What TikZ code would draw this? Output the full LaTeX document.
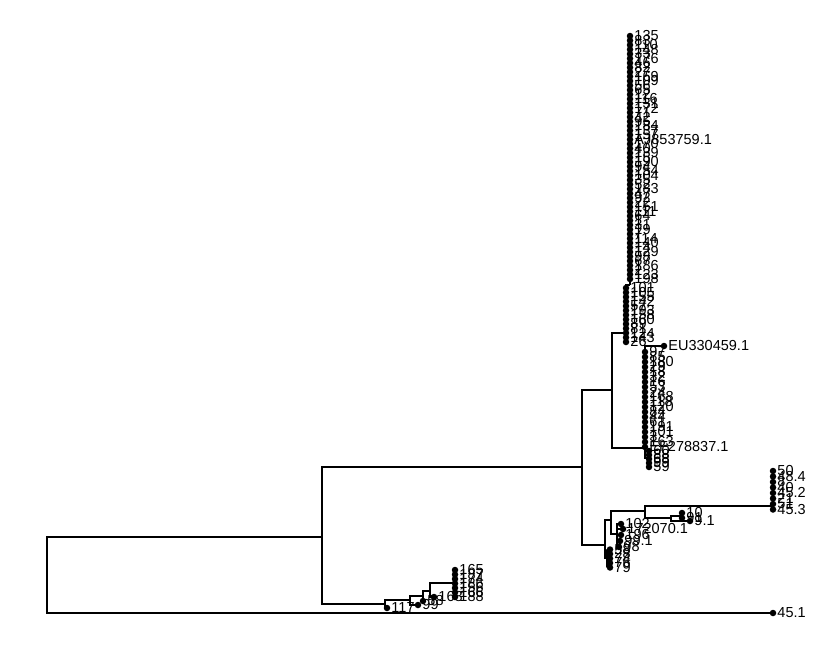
\documentclass[tikz,border=0pt]{standalone}
\usepackage{fontspec}
\setmainfont{Liberation Sans}
\begin{document}
\begin{tikzpicture}[x=1pt, y=-1pt,
  leaf/.style={circle, fill, inner sep=0pt, minimum size=6.5pt},
  leaflab/.style={font=\fontsize{14.5}{14.5}\selectfont, inner sep=0.8pt},
  br/.style={line width=1.3pt}]
  \useasboundingbox (0,0) rectangle (822,653);
  % internal nodes
  \coordinate (R)  at (47,575);
  \coordinate (A)  at (322,537);
  \coordinate (B)  at (582,467);
  \coordinate (H)  at (612,390);
  \coordinate (J)  at (626,333);
  \coordinate (U)  at (630,285);
  \coordinate (K)  at (645,448);
  \coordinate (K2) at (648,458);
  \coordinate (I)  at (605,545);
  \coordinate (P)  at (611,520);
  \coordinate (Q)  at (607,558);
  \coordinate (S)  at (617,534);
  \coordinate (L)  at (645,511);
  \coordinate (M)  at (773,506);
  \coordinate (N)  at (671,518);
  \coordinate (N2) at (682,516);
  \coordinate (C)  at (385,604);
  \coordinate (D)  at (410,600);
  \coordinate (E)  at (423,596);
  \coordinate (E2) at (430,591);
  \coordinate (G)  at (455,583);
  % backbone
  \draw[br] (R) |- (A);
  \draw[br] (A) |- (B);
  \draw[br] (A) |- (C);
  \draw[br] (B) |- (H);
  \draw[br] (B) |- (I);
  \draw[br] (H) |- (J);
  \draw[br] (H) |- (K);
  \draw[br] (J) |- (U);
  \draw[br] (K) |- (K2);
  \draw[br] (I) |- (P);
  \draw[br] (I) |- (Q);
  \draw[br] (P) |- (L);
  \draw[br] (P) |- (S);
  \draw[br] (L) |- (M);
  \draw[br] (L) |- (N);
  \draw[br] (N) |- (N2);
  \draw[br] (C) |- (D);
  \draw[br] (D) |- (E);
  \draw[br] (E) |- (E2);
  \draw[br] (E2) |- (G);
  % outgroup
  \node[leaf, label={[leaflab]right:45.1}] (t451) at (773,613) {};
  \draw[br] (R) |- (t451);
  % big upper clade
  \foreach \lab [count=\i] in {135,83,110,148,33,176,46,82,27,169,109,56,65,
      12,116,131,172,71,42,95,184,137,157,AJ853759.1,170,40,139,15,190,
      94,154,104,35,52,183,47,92,22,151,111,64,1,31,19,7,114,140,14,129,
      98,67,186,2,123,198} {
    \node[leaf, label={[leaflab]right:\lab}] (u\i) at (630,{31.5+4.5*\i}) {};
    \draw[br] (U) |- (u\i);
  }
  \foreach \lab [count=\i] in {101,105,155,142,57,193,158,160,89,81,124,143,26} {
    \node[leaf, label={[leaflab]right:\lab}] (j\i) at (626,{283.5+4.5*\i}) {};
    \draw[br] (J) |- (j\i);
  }
  % middle clade
  \node[leaf, label={[leaflab]right:EU330459.1}] (tEU) at (664,346) {};
  \draw[br] (K) |- (tEU);
  \foreach \lab [count=\i] in {97,85,180,29,18,32,16,53,24,168,118,120,84,
      44,61,191,101,3,163,EF278837.1} {
    \node[leaf, label={[leaflab]right:\lab}] (k\i) at (645,{347+5*\i}) {};
    \draw[br] (K) |- (k\i);
  }
  \foreach \lab [count=\i] in {60,88,68,99,59} {
    \node[leaf, label={[leaflab]right:\lab}] (m\i) at (649,{447+4*\i}) {};
    \draw[br] (K2) |- (m\i);
  }
  % lower right clade
  \foreach \lab [count=\i] in {50,48.4,8,40,45.2,21,51,45.3} {
    \node[leaf, label={[leaflab]right:\lab}] (r\i) at (773,{465.5+5.5*\i}) {};
    \draw[br] (M) |- (r\i);
  }
  \node[leaf, label={[leaflab]right:10}] (t10) at (682,513) {};
  \node[leaf, label={[leaflab]right:91}] (t91) at (682,518) {};
  \node[leaf, label={[leaflab]right:9.1}] (t91b) at (690,521) {};
  \draw[br] (N2) |- (t10);
  \draw[br] (N2) |- (t91);
  \draw[br] (N) |- (t91b);
  \node[leaf, label={[leaflab]right:102}] (s1) at (621,524) {};
  \node[leaf, label={[leaflab]right:172070.1}] (s2) at (623,529) {};
  \node[leaf, label={[leaflab]right:196}] (s3) at (621,535) {};
  \node[leaf, label={[leaflab]right:99.1}] (s4) at (620,541) {};
  \node[leaf, label={[leaflab]right:98}] (s5) at (619,547) {};
  \foreach \i in {1,...,5} {\draw[br] (S) |- (s\i);}
  \foreach \lab [count=\i] in {58,28,74,76,79} {
    \node[leaf, label={[leaflab]right:\lab}] (q\i) at (610,{545+4.5*\i}) {};
    \draw[br] (Q) |- (q\i);
  }
  % small lower clade
  \node[leaf, label={[leaflab]right:117}] (t117) at (387,608) {};
  \node[leaf, label={[leaflab]right:99}] (t99) at (418,605) {};
  \node[leaf, label={[leaflab]right:58}] (t58) at (423,601) {};
  \node[leaf, label={[leaflab]right:168}] (t168) at (434,597) {};
  \draw[br] (C) |- (t117);
  \draw[br] (D) |- (t99);
  \draw[br] (E) |- (t58);
  \draw[br] (E2) |- (t168);
  \foreach \lab [count=\i] in {165,187,174,186,156,166,188} {
    \node[leaf, label={[leaflab]right:\lab}] (g\i) at (455,{565.5+4.5*\i}) {};
    \draw[br] (G) |- (g\i);
  }
\end{tikzpicture}
\end{document}
